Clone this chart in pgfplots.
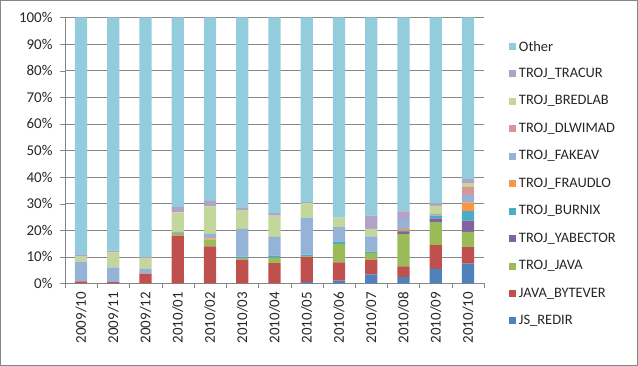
\documentclass[border=0pt]{standalone}
\usepackage{pgfplots}
\pgfplotsset{compat=1.18}
\usepackage{fontspec}
\setmainfont{Carlito}
\definecolor{cJS}{HTML}{4F81BD}
\definecolor{cJB}{HTML}{C0504D}
\definecolor{cTJ}{HTML}{9BBB59}
\definecolor{cYA}{HTML}{8064A2}
\definecolor{cBU}{HTML}{4BACC6}
\definecolor{cFR}{HTML}{F79646}
\definecolor{cFA}{HTML}{95B3D7}
\definecolor{cDL}{HTML}{D99694}
\definecolor{cBR}{HTML}{C3D69B}
\definecolor{cTR}{HTML}{B3A2C7}
\definecolor{cOT}{HTML}{93CDDD}
\definecolor{gridgray}{HTML}{868686}
\begin{document}
\begin{tikzpicture}
\useasboundingbox (0,0) rectangle (638bp,366bp);
\draw[gridgray, line width=0.8bp] (0.5bp,0.5bp) rectangle (637.5bp,365.5bp);
\begin{axis}[
  at={(65bp,82.5bp)}, anchor=south west,
  scale only axis, width=419bp, height=266bp,
  ybar stacked, bar width=0.38,
  xmin=-0.5, xmax=12.5, ymin=0, ymax=100,
  xtick={0,...,12},
  xticklabels={2009/10,2009/11,2009/12,2010/01,2010/02,2010/03,2010/04,2010/05,2010/06,2010/07,2010/08,2010/09,2010/10},
  xticklabel style={rotate=90, anchor=east, font=\fontsize{15}{17}\selectfont, text=black!85},
  major x tick style={draw=none},
  minor xtick={-0.5,0.5,...,12.5},
  minor x tick style={gridgray},
  minor tick length=5bp,
  ytick={0,10,...,100},
  yticklabel={\pgfmathprintnumber{\tick}\%},
  yticklabel style={font=\fontsize{15}{17}\selectfont, text=black!85, xshift=-4bp},
  /pgf/number format/assume math mode=true,
  major y tick style={gridgray},
  major tick length=5bp,
  tick align=outside,
  ymajorgrids, grid style={gridgray, line width=0.6bp},
  axis x line*=bottom, axis y line*=left,
  axis line style={gridgray, line width=0.8bp, -},
  every axis plot/.append style={draw=none},
  legend image code/.code={\fill[#1] (0bp,-3.5bp) rectangle (7bp,3.5bp);},
  reverse legend,
  legend style={draw=none, fill=none, at={(1.052,0.925)}, anchor=north west,
    font=\fontsize{14.5}{16}\selectfont, text=black!85, row sep=12.2bp,
    /tikz/every node/.style={anchor=west}},
  legend cell align=left,
]
% x: 0..12 = 2009/10 .. 2010/10
\addplot[fill=cJS] coordinates {(0,0) (1,0) (2,0) (3,0) (4,0) (5,0) (6,0) (7,0.5) (8,1.1) (9,3.4) (10,2.5) (11,5.5) (12,7.5)};
\addplot[fill=cJB] coordinates {(0,0.8) (1,0.5) (2,3.7) (3,18.0) (4,14.0) (5,9.0) (6,7.7) (7,9.4) (8,6.8) (9,5.6) (10,3.9) (11,8.9) (12,6.2)};
\addplot[fill=cTJ] coordinates {(0,0) (1,0) (2,0) (3,1.0) (4,2.5) (5,0.5) (6,2.0) (7,0.4) (8,7.0) (9,2.5) (10,12.2) (11,8.7) (12,5.7)};
\addplot[fill=cYA] coordinates {(0,0) (1,0) (2,0) (3,0) (4,0) (5,0) (6,0) (7,0) (8,0) (9,0) (10,0.8) (11,1.4) (12,4.2)};
\addplot[fill=cBU] coordinates {(0,0) (1,0) (2,0) (3,0) (4,0) (5,0.6) (6,0.8) (7,0.6) (8,0.8) (9,0.5) (10,0.4) (11,1.0) (12,3.6)};
\addplot[fill=cFR] coordinates {(0,0) (1,0) (2,0) (3,0) (4,0.5) (5,0) (6,0) (7,0) (8,0) (9,0) (10,0.7) (11,0.3) (12,3.3)};
\addplot[fill=cFA] coordinates {(0,7.2) (1,5.6) (2,1.8) (3,0.6) (4,1.7) (5,10.4) (6,7.0) (7,13.9) (8,5.5) (9,5.7) (10,3.7) (11,0.4) (12,2.8)};
\addplot[fill=cDL] coordinates {(0,0) (1,0) (2,0) (3,0) (4,0) (5,0) (6,0) (7,0) (8,0) (9,0) (10,0) (11,0) (12,2.8)};
\addplot[fill=cBR] coordinates {(0,2.1) (1,5.6) (2,4.1) (3,7.1) (4,10.3) (5,7.2) (6,8.0) (7,5.4) (8,3.6) (9,2.8) (10,0) (11,3.0) (12,1.6)};
\addplot[fill=cTR] coordinates {(0,0.6) (1,0.7) (2,0.4) (3,2.0) (4,2.1) (5,0.9) (6,1.0) (7,0.4) (8,0) (9,5.0) (10,2.9) (11,0.8) (12,1.5)};
\addplot[fill=cOT] coordinates {(0,89.3) (1,87.6) (2,90.0) (3,71.3) (4,68.9) (5,71.4) (6,73.5) (7,69.4) (8,75.2) (9,74.5) (10,72.9) (11,70.0) (12,60.8)};
\legend{JS\_REDIR,JAVA\_BYTEVER,TROJ\_JAVA,TROJ\_YABECTOR,TROJ\_BURNIX,TROJ\_FRAUDLO,TROJ\_FAKEAV,TROJ\_DLWIMAD,TROJ\_BREDLAB,TROJ\_TRACUR,Other}
\end{axis}
\end{tikzpicture}
\end{document}
